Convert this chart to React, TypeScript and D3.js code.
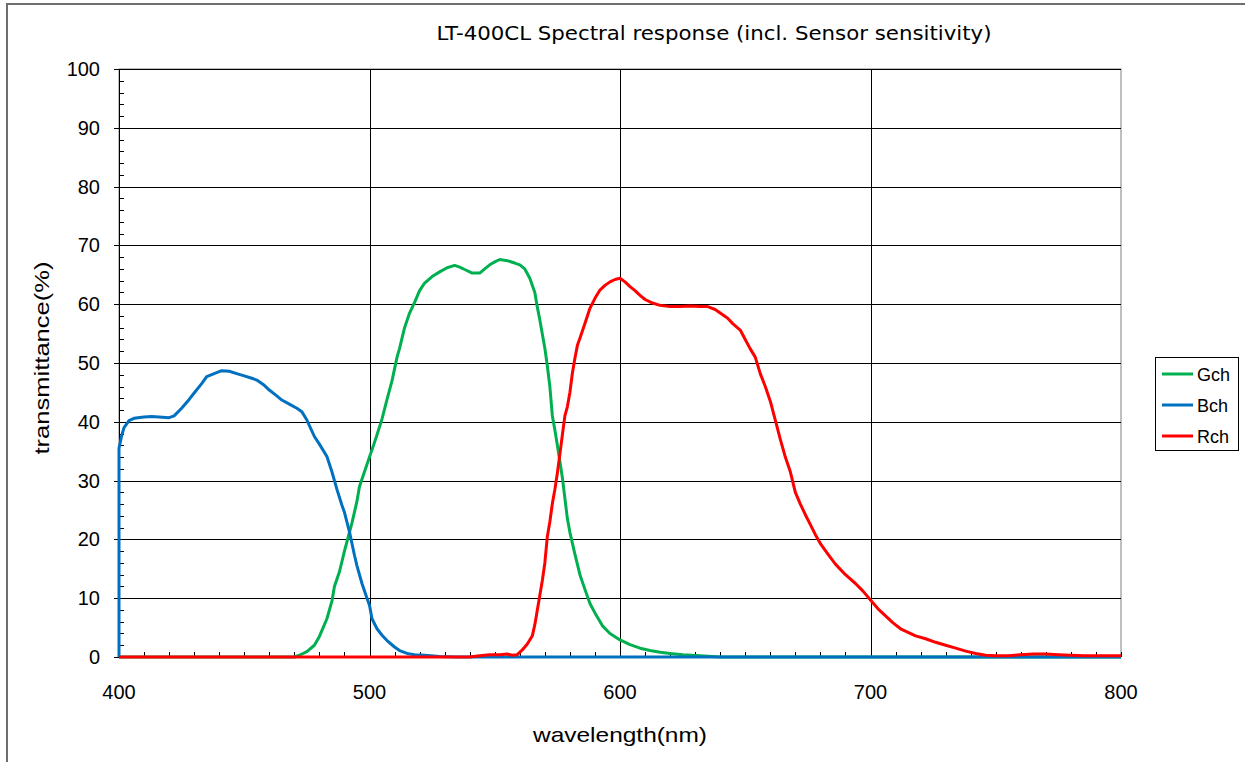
import React from "react";
import * as d3 from "d3";

const title = "LT-400CL Spectral response (incl. Sensor sensitivity)";
const xTicks = [400, 500, 600, 700, 800];
const yTicks = [0, 10, 20, 30, 40, 50, 60, 70, 80, 90, 100];
const seriesNames = ["Gch", "Bch", "Rch"];
const seriesColors = ["#00B050", "#0070C0", "#FF0000"];

const gchWl = [400, 470, 472, 475, 478, 480, 483, 485, 486, 488, 490, 493, 495, 496, 498, 500, 502, 503, 505, 507, 509, 511, 512, 514, 516, 518, 520, 522, 525, 528, 531, 534, 536, 538, 541, 544, 546, 548, 550, 552, 555, 558, 560, 562, 564, 566, 567, 568, 570, 571, 572, 573, 574, 575, 577, 578, 579, 580, 582, 584, 586, 588, 590, 593, 596, 600, 604, 608, 612, 616, 620, 625, 632, 640, 800];
const gchVal = [0, 0, 0.3, 0.9, 2, 3.5, 6.5, 9.5, 12, 14.5, 18, 22.8, 26.5, 29, 31.5, 34, 36.5, 37.8, 40.5, 43.8, 47, 51, 52.5, 56, 58.5, 60.3, 62.3, 63.6, 64.7, 65.5, 66.2, 66.6, 66.3, 65.9, 65.3, 65.3, 66, 66.7, 67.2, 67.6, 67.4, 67, 66.7, 66, 64.4, 62, 59.5, 57.3, 52.5, 49.5, 46, 41, 38.6, 36, 30.5, 27, 23.5, 21.2, 17.5, 14, 11.5, 9.1, 7.5, 5.3, 4, 2.9, 2.1, 1.5, 1.1, 0.8, 0.6, 0.4, 0.2, 0, 0];

const bchWl = [400, 400, 401, 402, 404, 406, 410, 413, 416, 420, 422, 425, 428, 430, 433, 435, 438, 441, 444, 447, 450, 453, 455, 458, 460, 463, 465, 468, 471, 473, 475, 478, 480, 483, 485, 487, 489, 490, 492, 494, 495, 497, 499, 500, 501, 503, 505, 507, 510, 512, 515, 518, 522, 528, 535, 800];
const bchVal = [0, 35.5, 37.5, 39, 40.2, 40.6, 40.8, 40.9, 40.8, 40.7, 41, 42.3, 43.8, 44.9, 46.5, 47.7, 48.2, 48.7, 48.6, 48.2, 47.8, 47.4, 47.1, 46.2, 45.4, 44.4, 43.7, 43, 42.3, 41.7, 40.3, 37.5, 36.2, 34.1, 31.5, 28.5, 25.8, 24.6, 21.3, 17.3, 15.5, 12.5, 10, 8.8, 6.5, 4.8, 3.7, 2.8, 1.7, 1.1, 0.6, 0.4, 0.3, 0.1, 0, 0];

const rchWl = [400, 540, 544, 548, 552, 555, 557, 559, 561, 563, 565, 566, 567, 568, 569, 570, 571, 572, 573, 574, 575, 576, 577, 578, 579, 580, 581, 582, 583, 584, 586, 588, 590, 592, 594, 596, 598, 600, 602, 604, 606, 608, 610, 613, 616, 620, 624, 628, 632, 635, 638, 640, 643, 645, 648, 650, 652, 654, 656, 658, 660, 662, 664, 666, 668, 670, 672, 674, 676, 678, 680, 683, 686, 690, 694, 697, 700, 703, 706, 709, 712, 715, 718, 722, 726, 730, 734, 738, 742, 746, 750, 755, 760, 765, 770, 775, 780, 785, 790, 800];
const rchVal = [0, 0, 0.2, 0.4, 0.4, 0.5, 0.3, 0.4, 1.2, 2.2, 3.6, 5.5, 8, 10.5, 13, 16, 20.5, 23, 26.1, 28.5, 31.3, 34.5, 37.8, 41, 42.6, 45, 48.3, 50.8, 53, 54.2, 56.7, 59.3, 61, 62.4, 63.2, 63.8, 64.2, 64.4, 63.8, 63, 62.3, 61.5, 60.8, 60.2, 59.8, 59.6, 59.6, 59.7, 59.6, 59.6, 59.1, 58.5, 57.6, 56.7, 55.6, 54, 52.4, 51, 48.2, 46, 43.5, 40.3, 37, 34, 31.5, 28, 26, 24.2, 22.5, 20.8, 19.3, 17.5, 15.8, 14, 12.5, 11.2, 9.7, 8.2, 7, 5.8, 4.8, 4.2, 3.6, 3.1, 2.5, 2, 1.5, 1, 0.6, 0.3, 0.2, 0.2, 0.4, 0.5, 0.5, 0.4, 0.3, 0.2, 0.2, 0.2];

const W = 1245;
const H = 762;
const L = 119, R = 1121, T = 69, B = 657;

export default function App() {
  const x = d3.scaleLinear().domain([400, 800]).range([L, R]);
  const y = d3.scaleLinear().domain([0, 100]).range([B, T]);
  const line = d3
    .line<[number, number]>()
    .x((d) => x(d[0]))
    .y((d) => y(d[1]));
  const series = [
    gchWl.map((w, i) => [w, gchVal[i]] as [number, number]),
    bchWl.map((w, i) => [w, bchVal[i]] as [number, number]),
    rchWl.map((w, i) => [w, rchVal[i]] as [number, number]),
  ];
  const xMinor = d3.range(400, 801, 10);
  const yMinor = d3.range(0, 101, 2);
  const font = "'Liberation Sans', Arial, sans-serif";

  return (
    <svg
      width={W}
      height={H}
      style={{ position: "absolute", left: 0, top: 0, background: "#fff" }}
    >
      <rect x={0} y={0} width={W} height={H} fill="#fff" />
      <rect x={7} y={4} width={W + 20} height={H + 20} fill="none" stroke="#6e6e6e" strokeWidth={2} />
      <text
        x={714}
        y={40}
        textAnchor="middle"
        fontFamily="'DejaVu Sans Condensed', 'DejaVu Sans', sans-serif"
        fontSize={20}
        textLength={555}
        lengthAdjust="spacingAndGlyphs"
        fill="#000"
      >
        {title}
      </text>
      <rect x={L} y={T} width={R - L} height={B - T} fill="#fff" stroke="#808080" strokeWidth={1} />
      {yTicks.map((t) => (
        <line key={"gy" + t} x1={L} x2={R} y1={Math.round(y(t)) + 0.5} y2={Math.round(y(t)) + 0.5} stroke="#000" strokeWidth={1} />
      ))}
      {xTicks.slice(1, -1).map((t) => (
        <line key={"gx" + t} x1={Math.round(x(t)) + 0.5} x2={Math.round(x(t)) + 0.5} y1={T} y2={B} stroke="#000" strokeWidth={1} />
      ))}
      <line x1={L + 0.5} x2={L + 0.5} y1={T} y2={B} stroke="#000" strokeWidth={1} />
      {yMinor.map((t) => (
        <line key={"ym" + t} x1={L} x2={L + 5} y1={Math.round(y(t)) + 0.5} y2={Math.round(y(t)) + 0.5} stroke="#000" strokeWidth={1} />
      ))}
      {yTicks.map((t) => (
        <line key={"yM" + t} x1={L - 5} x2={L} y1={Math.round(y(t)) + 0.5} y2={Math.round(y(t)) + 0.5} stroke="#000" strokeWidth={1} />
      ))}
      <line x1={L} x2={R} y1={B + 0.5} y2={B + 0.5} stroke="#000" strokeWidth={1} />
      {xMinor.map((t) => (
        <line key={"xm" + t} x1={Math.round(x(t)) + 0.5} x2={Math.round(x(t)) + 0.5} y1={B - 5} y2={B} stroke="#000" strokeWidth={1} />
      ))}
      {series.map((s, i) => (
        <path key={"s" + i} d={line(s) || ""} fill="none" stroke={seriesColors[i]} strokeWidth={3} strokeLinejoin="round" />
      ))}
      {yTicks.map((t) => (
        <text key={"yl" + t} x={100} y={y(t) + 7} textAnchor="end" fontFamily={font} fontSize={20} fill="#000">
          {t}
        </text>
      ))}
      {xTicks.map((t) => (
        <text key={"xl" + t} x={x(t)} y={699} textAnchor="middle" fontFamily={font} fontSize={20} fill="#000">
          {t}
        </text>
      ))}
      <text x={620} y={742} textAnchor="middle" fontFamily={font} fontSize={21} textLength={174} lengthAdjust="spacingAndGlyphs" fill="#000">
        wavelength(nm)
      </text>
      <text
        transform="translate(49,358) rotate(-90)"
        textAnchor="middle"
        fontFamily={font}
        fontSize={21}
        textLength={193}
        lengthAdjust="spacingAndGlyphs"
        fill="#000"
      >
        transmittance(%)
      </text>
      <rect x={1155.5} y={357.5} width={83} height={93} fill="#fff" stroke="#000" strokeWidth={1} />
      {seriesNames.map((n, i) => (
        <g key={"lg" + n}>
          <line x1={1162} x2={1193} y1={374 + i * 31} y2={374 + i * 31} stroke={seriesColors[i]} strokeWidth={3} />
          <text x={1197} y={381 + i * 31} fontFamily={font} fontSize={18} fill="#000">
            {n}
          </text>
        </g>
      ))}
    </svg>
  );
}
